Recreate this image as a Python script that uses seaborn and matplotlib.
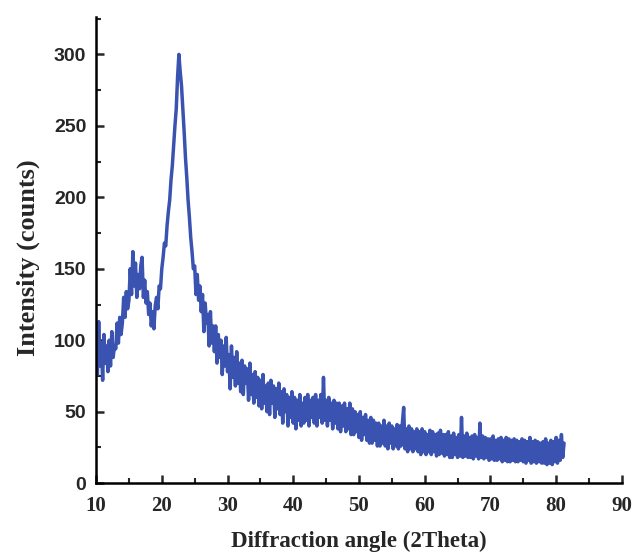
import numpy as np
import pandas as pd
import matplotlib
matplotlib.use("Agg")
import matplotlib.pyplot as plt
from matplotlib.ticker import MultipleLocator
import seaborn as sns

# 2-theta start / step of the scan (0.2 degree steps)
theta_start = 10.0
theta_step = 0.2

# Intensity (counts), five readings per degree
intensity = [
    108, 76, 113, 82, 98,     # 10
    72, 104, 84, 96, 78,      # 11
    100, 82, 106, 88, 96,     # 12
    94, 112, 98, 116, 104,    # 13
    112, 130, 116, 134, 122,  # 14
    128, 150, 132, 162, 138,  # 15
    154, 130, 146, 136, 152,  # 16
    158, 130, 142, 126, 134,  # 17
    118, 126, 110, 120, 108,  # 18
    124, 130, 122, 138, 136,  # 19
    150, 158, 168, 166, 180,  # 20
    190, 198, 212, 222, 236,  # 21
    250, 262, 284, 300, 288,  # 22
    278, 262, 246, 228, 214,  # 23
    198, 186, 172, 162, 150,  # 24
    152, 132, 146, 128, 138,  # 25
    120, 132, 106, 126, 112,  # 26
    118, 96, 120, 98, 110,    # 27
    92, 110, 84, 104, 88,     # 28
    100, 76, 96, 82, 102,     # 29
    78, 90, 66, 96, 74,       # 30
    88, 68, 92, 70, 84,       # 31
    64, 86, 62, 82, 70,       # 32
    80, 58, 84, 62, 76,       # 33
    56, 78, 60, 74, 54,       # 34
    72, 52, 76, 56, 68,       # 35
    50, 70, 48, 72, 56,       # 36
    68, 46, 66, 52, 70,       # 37
    48, 64, 42, 66, 50,       # 38
    62, 40, 60, 46, 64,       # 39
    42, 60, 38, 58, 44,       # 40
    62, 40, 56, 42, 60,       # 41
    44, 62, 40, 58, 46,       # 42
    60, 42, 62, 40, 58,       # 43
    46, 62, 42, 74, 44,       # 44
    58, 40, 60, 44, 56,       # 45
    38, 58, 42, 56, 38,       # 46
    56, 36, 54, 40, 56,       # 47
    36, 52, 38, 56, 34,       # 48
    52, 34, 50, 36, 48,       # 49
    32, 50, 30, 46, 34,       # 50
    48, 30, 44, 28, 46,       # 51
    28, 44, 30, 42, 26,       # 52
    42, 26, 40, 28, 44,       # 53
    26, 40, 24, 42, 28,       # 54
    40, 24, 38, 26, 41,       # 55
    24, 40, 26, 42, 53,       # 56
    24, 38, 22, 40, 24,       # 57
    38, 22, 36, 24, 38,       # 58
    22, 36, 20, 38, 22,       # 59
    36, 20, 34, 22, 37,       # 60
    20, 36, 22, 34, 19,       # 61
    35, 20, 37, 21, 34,       # 62
    19, 34, 20, 36, 18,       # 63
    33, 18, 35, 20, 32,       # 64
    18, 34, 19, 46, 18,       # 65
    33, 19, 35, 18, 32,       # 66
    18, 33, 17, 34, 19,       # 67
    32, 17, 42, 18, 33,       # 68
    17, 32, 18, 31, 16,       # 69
    31, 17, 33, 16, 30,       # 70
    16, 31, 17, 32, 15,       # 71
    30, 16, 32, 15, 31,       # 72
    15, 30, 16, 31, 15,       # 73
    30, 15, 29, 16, 31,       # 74
    15, 30, 14, 29, 16,       # 75
    32, 14, 29, 15, 30,       # 76
    14, 29, 15, 28, 14,       # 77
    29, 14, 31, 13, 28,       # 78
    14, 30, 13, 29, 15,       # 79
    32, 14, 30, 16, 34,       # 80
    18, 28,                   # 81
]

x_ticks = [10, 20, 30, 40, 50, 60, 70, 80, 90]
y_ticks = [0, 50, 100, 150, 200, 250, 300]

two_theta = theta_start + theta_step * np.arange(len(intensity))
df = pd.DataFrame({"two_theta": two_theta, "intensity": intensity})

sns.set_style("ticks")
plt.rcParams["font.family"] = ["Liberation Serif", "DejaVu Serif"]

fig = plt.figure(figsize=(6.32, 5.56), dpi=100)
ax = fig.add_axes([0.152, 0.131, 0.832, 0.838])

sns.lineplot(data=df, x="two_theta", y="intensity", ax=ax,
             color="#3a52b0", linewidth=2.5, estimator=None, sort=False)

ax.set_xlim(10, 90)
ax.set_ylim(0, 326)
ax.set_xticks(x_ticks)
ax.set_yticks(y_ticks)
ax.xaxis.set_minor_locator(MultipleLocator(5))
ax.yaxis.set_minor_locator(MultipleLocator(25))

ax.tick_params(axis="both", which="major", direction="in", length=6, width=1.8,
               top=False, right=False)
ax.tick_params(axis="both", which="minor", direction="in", length=3.5, width=1.5,
               top=False, right=False)
ax.tick_params(axis="x", pad=9)
ax.tick_params(axis="y", pad=7)

for lab in ax.get_xticklabels():
    lab.set_fontfamily("Liberation Serif")
    lab.set_fontweight("bold")
    lab.set_fontsize(15)
for lab in ax.get_yticklabels():
    lab.set_fontfamily("Liberation Sans")
    lab.set_fontweight("bold")
    lab.set_fontsize(14)

for side in ["top", "right"]:
    ax.spines[side].set_visible(False)
for side in ["left", "bottom"]:
    ax.spines[side].set_linewidth(1.8)
    ax.spines[side].set_color("black")

ax.set_xlabel("Diffraction angle (2Theta)", fontsize=16.5, fontweight="bold")
ax.set_ylabel("Intensity (counts)", fontsize=19, fontweight="bold")
ax.xaxis.set_label_coords(0.5, -0.103)
ax.yaxis.set_label_coords(-0.106, 0.483)

fig.savefig("out.png", dpi=100)
